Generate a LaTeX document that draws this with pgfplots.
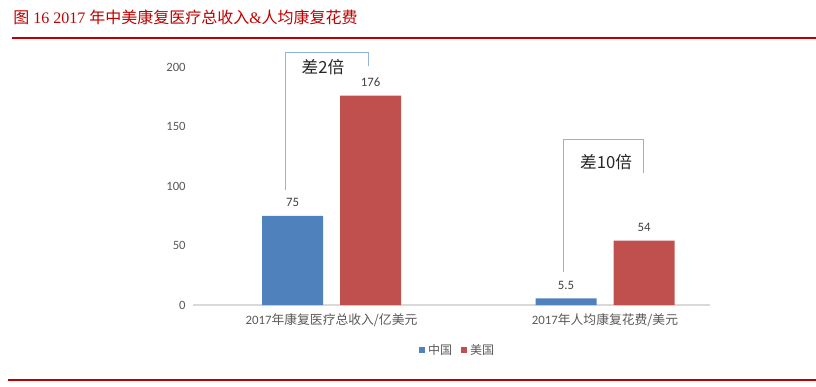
\documentclass[border=0pt]{standalone}
\usepackage{pgfplots}
\pgfplotsset{compat=1.18}
\usepackage{fontspec}
\setmainfont{Carlito}
\newfontfamily\cjk{Noto Sans CJK SC}
\newfontfamily\tnr{Liberation Serif}
\definecolor{cnblue}{RGB}{79,129,189}
\definecolor{usred}{RGB}{192,80,77}
\definecolor{titlered}{RGB}{192,0,0}
\definecolor{brk}{RGB}{141,180,226}
\definecolor{txtgray}{RGB}{89,89,89}
\definecolor{lblgray}{RGB}{64,64,64}
\definecolor{axgray}{RGB}{217,217,217}
\begin{document}
\begin{tikzpicture}
\path[use as bounding box] (0,0) rectangle (612pt,-289.5pt);
% title
\node[anchor=west, inner sep=0pt, text=titlered, font=\fontsize{12}{14}\selectfont] at (9.75pt,-12.75pt)
  {{\cjk 图}{\tnr\ 16 2017 }{\cjk 年中美康复医疗总收入}{\tnr\&}{\cjk 人均康复花费}};
\draw[titlered, line width=1.6pt] (9pt,-28.5pt) -- (612pt,-28.5pt);
\draw[titlered, line width=1.6pt] (6pt,-284.8pt) -- (612pt,-284.8pt);
\begin{axis}[
  at={(144.75pt,-228.75pt)}, anchor=south west,
  scale only axis, width=387.75pt, height=178.5pt,
  xmin=193, xmax=710, ymin=0, ymax=200,
  enlargelimits=false, clip=false,
  ybar, bar width=61,
  axis lines*=left,
  axis line style={-},
  y axis line style={draw=none},
  x axis line style={draw=axgray, line width=0.8pt},
  major tick length=0pt,
  ytick={0,50,100,150,200},
  xtick={331.5,605},
  xticklabels={{2017{\cjk 年康复医疗总收入/亿美元}},{2017{\cjk 年人均康复花费/美元}}},
  xticklabel style={font=\fontsize{9.6}{11}\selectfont, text=txtgray, yshift=-3pt},
  yticklabel style={font=\fontsize{9.5}{11}\selectfont, text=txtgray, xshift=-2pt},
  /pgf/number format/assume math mode=true,
  nodes near coords,
  every node near coord/.append style={font=\fontsize{9.6}{11}\selectfont, text=lblgray, yshift=3pt},
  legend style={at={(axis cs:458,-37.8)}, anchor=center, draw=none, fill=none,
    legend columns=2, font=\fontsize{9}{10}\selectfont\cjk, text=txtgray,
    /tikz/every even column/.append style={column sep=5pt}},
  legend image code/.code={\fill[#1] (0pt,-2.25pt) rectangle (4.5pt,2.25pt);},
]
\addplot[fill=cnblue, draw=none, bar shift=-39] coordinates {(331.5,75) (605,5.5)};
\addplot[fill=usred, draw=none, bar shift=39] coordinates {(331.5,176) (605,54)};
\legend{中国,美国}
\draw[brk, line width=0.75pt] (axis cs:285,96.6) -- (axis cs:285,212.6) -- (axis cs:368,212.6) -- (axis cs:368,200.8);
\draw[brk, line width=0.75pt] (axis cs:563,27.7) -- (axis cs:563,138.7) -- (axis cs:643,138.7) -- (axis cs:643,110.9);
\node[font=\fontsize{12.5}{14}\selectfont\cjk, text=black!85] at (axis cs:323,200) {差2倍};
\node[font=\fontsize{12.5}{14}\selectfont\cjk, text=black!85] at (axis cs:606,120.2) {差10倍};
\end{axis}
\end{tikzpicture}
\end{document}
